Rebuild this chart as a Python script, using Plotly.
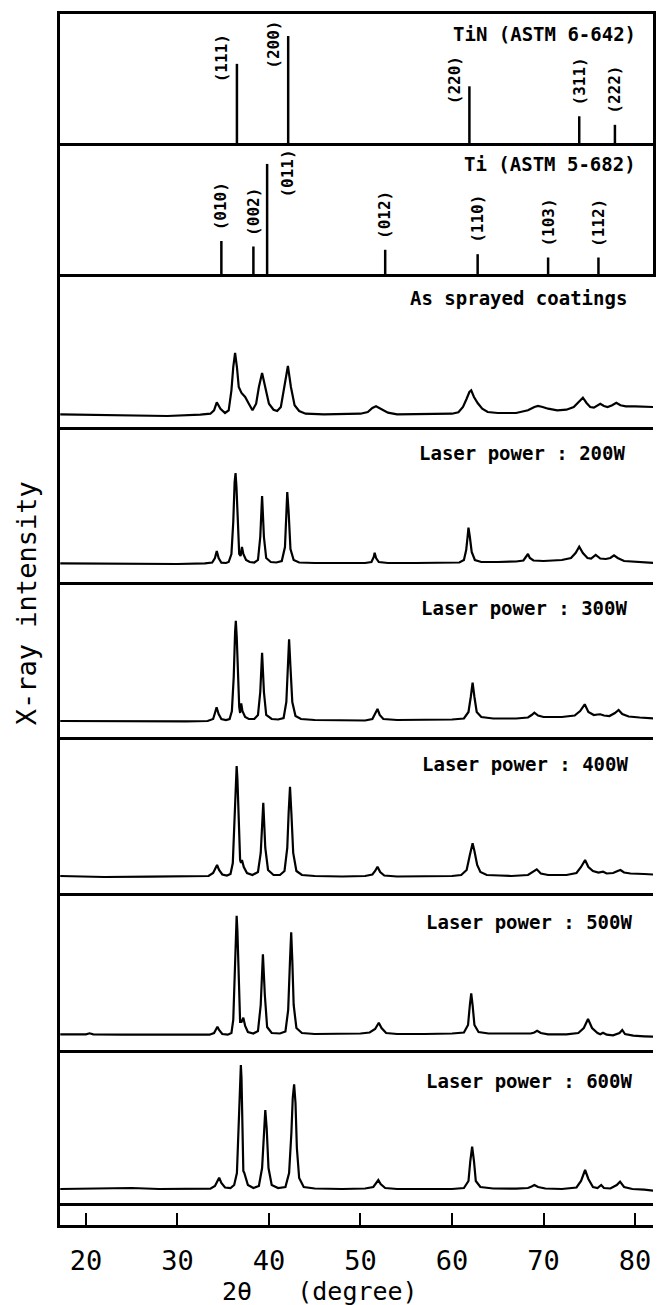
import plotly.graph_objects as go
from plotly.subplots import make_subplots

# ---------------- data ----------------
tin_pos = [36.5, 42.1, 61.9, 73.9, 77.8]
tin_int = [74, 100, 53, 25, 17]
tin_hkl = ["(111)", "(200)", "(220)", "(311)", "(222)"]

ti_pos = [34.8, 38.3, 39.8, 52.7, 62.8, 70.5, 76.0]
ti_int = [30, 25, 100, 22, 18, 15, 15]
ti_hkl = ["(010)", "(002)", "(011)", "(012)", "(110)", "(103)", "(112)"]

as_x = [17.2, 20, 24.3, 28.9, 32.5, 33.6, 34.0, 34.3, 34.7, 35.2, 35.6, 35.9, 36.1, 36.3, 36.5, 36.7, 37.0,
        37.4, 37.8, 38.2, 38.6, 38.9, 39.25, 39.6, 40.0, 40.5, 40.9, 41.3, 41.7, 42.07, 42.4, 42.8, 43.3,
        44, 46, 48, 50, 50.8, 51.3, 51.7, 52.2, 53, 54, 56, 58, 60, 60.7, 61.2, 61.6, 61.9, 62.1, 62.4,
        62.8, 63.3, 63.9, 65, 67, 68.3, 69.0, 69.4, 69.9, 70.5, 71.5, 72.5, 73.3, 73.8, 74.3, 74.7, 75.1,
        75.5, 75.9, 76.2, 76.6, 77.0, 77.5, 77.95, 78.4, 79, 80, 81, 82]
as_y = [12.7, 12.3, 11, 11, 12.3, 13.3, 16.7, 24.7, 18.3, 14, 16.7, 36.7, 60, 74, 60, 40, 34,
        30, 23.3, 16.7, 23.3, 40, 54, 40, 23.3, 17.3, 16, 20, 40, 61, 40, 21.7, 16,
        13.3, 12.7, 12.7, 13.3, 15, 19, 20.7, 18.3, 14.3, 12.7, 12.7, 13.3, 13.3, 14.7, 20, 28.3, 35, 36.7, 30,
        24, 18.3, 15, 14, 14, 16.7, 20, 21, 20, 18.3, 16.7, 17.3, 20, 25, 29.3, 24, 20,
        19.3, 21.7, 23.3, 21, 20, 21.7, 24.3, 21.7, 20.7, 20.7, 20, 20]

w200_x = [17.2, 22, 26, 30, 33, 33.8, 34.1, 34.3, 34.5, 34.8, 35.3, 35.6, 35.9, 36.1, 36.25, 36.35, 36.45,
          36.6, 36.75, 36.9, 37.05, 37.2, 37.5, 37.9, 38.4, 38.8, 39.05, 39.25, 39.45, 39.7, 40.2, 40.8,
          41.4, 41.75, 41.9, 42.0, 42.15, 42.35, 42.7, 43.3, 45, 48, 50.5, 51.2, 51.45, 51.55, 51.7, 52.0,
          53, 56, 59, 60.8, 61.3, 61.55, 61.7, 61.8, 61.95, 62.15, 62.5, 63.2, 65, 67, 67.8, 68.1, 68.3,
          68.5, 68.9, 70, 72, 73.0, 73.5, 73.9, 74.3, 74.8, 75.2, 75.7, 76.2, 76.8, 77.3, 77.7, 78.1, 78.8,
          80, 82]
w200_y = [18.7, 18.3, 18.7, 18, 18.7, 19.5, 24, 31, 24, 19.3, 19, 20, 28, 60, 100, 109, 95,
          55, 28, 26, 35, 28, 22, 20, 19.5, 22, 45, 86, 45, 24, 20, 19.5,
          21, 35, 70, 90, 70, 33, 22, 19.5, 19, 18.7, 19, 20, 25, 29.3, 24, 20,
          19, 19, 19, 19.5, 22, 32, 45, 54.3, 45, 30, 22, 20, 20, 20.5, 21.5, 25, 28,
          24, 21.5, 21, 22, 24, 29, 35.3, 29, 24, 23.5, 27, 23.5, 23, 24, 26.7, 24, 21,
          20, 19]

w300_x = [17.2, 22, 27, 31, 33.3, 33.9, 34.1, 34.28, 34.5, 34.8, 35.3, 35.7, 35.95, 36.15, 36.3, 36.38,
          36.48, 36.62, 36.75, 36.85, 36.97, 37.1, 37.4, 37.8, 38.4, 38.8, 39.05, 39.25, 39.45, 39.7,
          40.3, 41, 41.6, 41.9, 42.05, 42.2, 42.35, 42.55, 42.9, 43.5, 45, 48, 50.5, 51.3, 51.6, 51.86,
          52.1, 52.5, 54, 57, 60, 61.3, 61.8, 62.05, 62.25, 62.45, 62.7, 63.2, 64.5, 67, 68.3, 68.7, 69.0,
          69.4, 70, 72, 73.4, 74.0, 74.5, 74.9, 75.5, 75.9, 76.2, 76.6, 77.2, 77.8, 78.2, 78.6, 79.3,
          80.5, 82]
w300_y = [16, 15.7, 15.3, 15.7, 16, 18, 24, 29.7, 23, 18, 17, 18, 26, 60, 105, 116.3,
          100, 55, 30, 24, 33.7, 26, 20, 18, 18, 22, 45, 84.3, 45, 22,
          18, 17.5, 19, 35, 70, 97.7, 70, 35, 21, 18, 17, 16.5, 16.5, 18, 23, 28,
          22, 18, 17, 17.5, 17.5, 18.5, 25, 40, 54.3, 40, 25, 20, 18.5, 18.5, 19.5, 22, 24.3,
          21.5, 20, 20, 21.5, 26, 32.7, 25, 22, 22.5, 22.7, 21.5, 21, 24, 27, 23, 20.5,
          19.5, 18.7]

w400_x = [17.2, 22, 27, 31, 33.4, 33.9, 34.15, 34.33, 34.55, 34.9, 35.4, 35.8, 36.05, 36.25, 36.4, 36.47,
          36.55, 36.7, 36.85, 36.95, 37.05, 37.25, 37.6, 38.2, 38.8, 39.1, 39.38, 39.6, 39.9, 40.5, 41.2,
          41.7, 42.0, 42.15, 42.3, 42.45, 42.65, 43.0, 43.6, 45, 48, 50.5, 51.3, 51.6, 51.86, 52.15, 52.6,
          54, 57, 60, 61.0, 61.6, 61.95, 62.1, 62.25, 62.45, 62.75, 63.1, 63.8, 65.2, 66.5, 68.3, 68.9,
          69.26, 69.7, 70.5, 72.5, 73.6, 74.1, 74.54, 74.9, 75.4, 76.0, 76.5, 76.9, 77.6, 78.1, 78.4, 78.8,
          79.5, 81, 82]
w400_y = [17, 16, 16.3, 16.5, 17, 20, 25, 28, 23, 18.5, 17.5, 19, 30, 80, 120, 127,
          115, 60, 33, 30, 33, 26, 20, 18, 21, 40, 90.3, 45, 23, 18, 18,
          22, 45, 80, 106.3, 80, 40, 22, 18, 17, 16.5, 17, 18.5, 22, 26.3, 21, 17.5,
          16.5, 16.5, 17, 18, 23, 38, 45, 49.7, 42, 28, 21, 18, 17.5, 17, 18, 21.5,
          23.7, 19.5, 18, 18, 20, 26, 33, 26, 22, 20.5, 21.3, 19.5, 20, 22, 23, 20.5,
          19.5, 19, 18.5]

w500_x = [17.2, 20.0, 20.4, 20.8, 24, 28, 31, 33.5, 34.0, 34.2, 34.37, 34.55, 34.9, 35.5, 35.9, 36.1, 36.3,
          36.42, 36.47, 36.55, 36.7, 36.85, 37.0, 37.2, 37.4, 37.7, 38.3, 38.8, 39.1, 39.34, 39.55, 39.8,
          40.3, 41.2, 41.8, 42.1, 42.3, 42.43, 42.55, 42.7, 43.0, 43.6, 45, 48, 50, 51.0, 51.6, 52.0, 52.3,
          52.8, 54, 57, 60, 61.3, 61.75, 61.95, 62.1, 62.25, 62.45, 62.9, 64, 67, 68.6, 69.0, 69.3, 69.7,
          70.5, 72.5, 73.8, 74.4, 74.86, 75.3, 75.9, 76.2, 76.5, 76.9, 77.6, 78.3, 78.6, 78.9, 79.8, 81, 82]
w500_y = [15.7, 15.7, 16.7, 15.7, 15.3, 15, 15.3, 15.3, 17, 21, 23.3, 20, 16, 15.3, 17, 30, 90,
          130, 134.3, 120, 60, 28, 28, 32.3, 24, 18, 16.5, 19, 45, 95.7, 55, 23,
          17, 16.5, 18.5, 40, 90, 117.7, 90, 45, 22, 17, 16, 16, 16.5, 17.5, 21, 27.3, 22,
          17, 16, 16, 16.5, 17.5, 25, 45, 56.7, 45, 25, 18, 16.5, 16.5, 16.5, 17.5, 19.3, 17,
          15.7, 15.7, 17, 22, 31, 22, 17, 15.7, 17.3, 15.3, 14.7, 17, 20, 16, 14.3, 13.7, 13.3]

w600_x = [17.2, 20, 22, 25, 28, 31, 33.6, 34.1, 34.35, 34.56, 34.8, 35.2, 35.8, 36.2, 36.5, 36.7, 36.85,
          36.93, 37.0, 37.12, 37.2, 37.3, 37.45, 37.7, 38.3, 38.9, 39.25, 39.45, 39.6, 39.75, 39.95, 40.3,
          41, 41.8, 42.2, 42.45, 42.6, 42.75, 42.9, 43.05, 43.3, 43.8, 45, 48, 50.5, 51.4, 51.7, 51.95,
          52.2, 52.7, 54, 57, 60, 61.3, 61.8, 62.0, 62.2, 62.4, 62.6, 63.1, 64.5, 67, 68.3, 68.7, 69.0,
          69.4, 70.2, 72, 73.6, 74.1, 74.54, 74.9, 75.4, 75.9, 76.3, 76.6, 77.3, 78.0, 78.36, 78.8, 79.7,
          81, 82]
w600_y = [14, 14.3, 14, 15, 14, 14, 14.3, 17, 22, 25.3, 20, 15.5, 15, 18, 30, 80, 125,
          138, 125, 60, 32, 30.3, 26, 18, 15, 17, 35, 75, 93, 75, 35, 18,
          15, 16, 30, 70, 105, 118.7, 100, 55, 25, 16, 14.5, 14, 14.5, 16, 20, 23,
          19, 15, 14, 14, 14, 15, 22, 42, 56.3, 42, 22, 16, 14.5, 14.3, 15, 16.5, 18,
          16, 14.5, 14, 15.5, 22, 33, 24, 16, 15, 18, 15, 14.5, 18, 21.3, 16, 14,
          13.3, 12.3]

pattern_names = ["As sprayed coatings", "Laser power : 200W", "Laser power : 300W",
                 "Laser power : 400W", "Laser power : 500W", "Laser power : 600W"]
pattern_x = [as_x, w200_x, w300_x, w400_x, w500_x, w600_x]
pattern_y = [as_y, w200_y, w300_y, w400_y, w500_y, w600_y]

ref_names = ["TiN (ASTM 6-642)", "Ti (ASTM 5-682)"]
x_ticks = [20, 30, 40, 50, 60, 70, 80]

# ---------------- layout / style ----------------
W, H = 657, 1305
ML, MR, MT, MB = 60, 1, 14, 80
PLOT_H = H - MT - MB
row_px = [129, 131, 153, 155, 155, 156, 157, 153, 22]
xr = [17.17, 81.96]
stick_range = [120.6, 119.0]
FONT = "DejaVu Sans Mono"
tin_place = ["left", "left", "left", "above", "above"]
ti_place = ["above", "above", "right", "above", "above", "above", "above"]
title_drop = [20, 21, 23.5, 25.5, 25.5, 26.5, 28.5, 30.5]
title_right = [641, 641, 632, 630, 632, 633, 637, 637]

fig = make_subplots(rows=9, cols=1, shared_xaxes=True, vertical_spacing=0,
                    row_heights=[h / PLOT_H for h in row_px])


def stick_trace(pos, inten, row):
    xs, ys = [], []
    for p, v in zip(pos, inten):
        xs += [p, p, None]
        ys += [0, v, None]
    fig.add_trace(go.Scatter(x=xs, y=ys, mode="lines", line=dict(color="black", width=2.5),
                             hoverinfo="skip", showlegend=False), row=row, col=1)


stick_trace(tin_pos, tin_int, 1)
stick_trace(ti_pos, ti_int, 2)

for i, (xs, ys) in enumerate(zip(pattern_x, pattern_y)):
    fig.add_trace(go.Scatter(x=xs, y=ys, mode="lines", line=dict(color="black", width=2.2),
                             hoverinfo="skip", showlegend=False), row=3 + i, col=1)

# empty carrier trace so the tick strip subplot is always drawn
fig.add_trace(go.Scatter(x=[x_ticks[0]], y=[-1], mode="markers", marker=dict(opacity=0),
                         hoverinfo="skip", showlegend=False), row=9, col=1)

annotations = []


def axname(row, letter):
    return letter if row == 1 else f"{letter}{row}"


def stick_labels(pos, inten, hkl, place, row, yr):
    ppu = row_px[row - 1] / yr
    ymax_center = (row_px[row - 1] - 31) / ppu
    for p, v, t, pl in zip(pos, inten, hkl, place):
        a = dict(x=p, text=t, textangle=-90, showarrow=False,
                 xref=axname(row, "x"), yref=axname(row, "y"),
                 font=dict(family=FONT, size=16, color="black", weight="bold"))
        if pl == "above":
            a.update(y=v, xanchor="center", yanchor="bottom", yshift=9)
        else:
            c = min(v + 6 / ppu, ymax_center)
            a.update(y=c, yanchor="middle",
                     xanchor="right" if pl == "left" else "left",
                     xshift=-4 if pl == "left" else 8)
        annotations.append(a)


stick_labels(tin_pos, tin_int, tin_hkl, tin_place, 1, stick_range[0])
stick_labels(ti_pos, ti_int, ti_hkl, ti_place, 2, stick_range[1])

# panel titles
titles = ref_names + pattern_names
tops = [MT]
for h in row_px[:-1]:
    tops.append(tops[-1] + h)
for i, t in enumerate(titles):
    ypx = tops[i] + title_drop[i]
    annotations.append(dict(text=t, showarrow=False, xref="paper", yref="paper",
                            x=(title_right[i] - ML) / (W - ML - MR), xanchor="right",
                            y=(H - MB - ypx) / PLOT_H, yanchor="middle",
                            font=dict(family=FONT, size=19, color="black", weight="bold")))

# axis titles
annotations.append(dict(text="X-ray intensity", showarrow=False, xref="paper", yref="paper",
                        x=(26 - ML) / (W - ML - MR), y=(H - MB - 603) / PLOT_H,
                        xanchor="center", yanchor="middle", textangle=-90,
                        font=dict(family=FONT, size=27, color="black")))
annotations.append(dict(text="2θ   (degree)", showarrow=False, xref="paper", yref="paper",
                        x=(321.5 - ML) / (W - ML - MR), y=(H - MB - 1291) / PLOT_H,
                        xanchor="center", yanchor="middle",
                        font=dict(family=FONT, size=25, color="black")))

yranges = [[0, stick_range[0]], [0, stick_range[1]]] + [[0, h] for h in row_px[2:8]] + [[0, 1]]
for r in range(1, 10):
    fig.update_xaxes(range=xr, showline=True, linecolor="black", linewidth=3, showgrid=False,
                     zeroline=False, ticks="", mirror=(r == 1), row=r, col=1)
    fig.update_yaxes(range=yranges[r - 1], showline=True, linecolor="black", linewidth=3,
                     showgrid=False, zeroline=False, ticks="", showticklabels=False,
                     mirror=(r <= 2), row=r, col=1)

fig.update_xaxes(row=9, col=1, ticks="inside", ticklen=12, tickwidth=2, tickcolor="black",
                 tickvals=x_ticks, ticktext=[str(v) for v in x_ticks], showticklabels=True,
                 ticklabelstandoff=10,
                 tickfont=dict(family=FONT, size=27, color="black"))

fig.update_layout(width=W, height=H, margin=dict(l=ML, r=MR, t=MT, b=MB),
                  paper_bgcolor="white", plot_bgcolor="white", showlegend=False,
                  annotations=annotations)

fig.write_html("out.html")
